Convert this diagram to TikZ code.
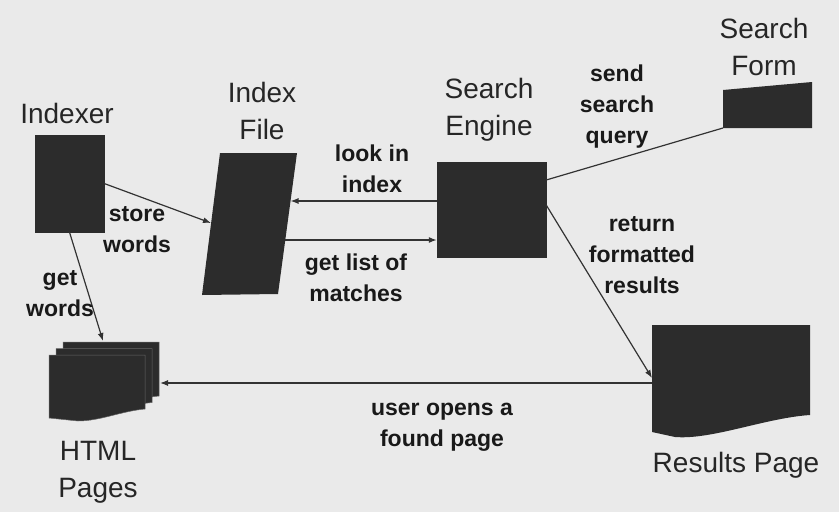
\documentclass[tikz,border=0pt]{standalone}
\usepackage{fontspec}
\setmainfont{Liberation Sans}
\usetikzlibrary{arrows.meta}

\definecolor{paper}{HTML}{EAEAEA}
\definecolor{ink}{HTML}{2C2C2C}

\begin{document}
\begin{tikzpicture}[x=1pt, y=-1pt, >={Latex[length=8pt,width=6pt]},
  blk/.style={fill=ink, draw=ink, inner sep=0pt},
  title/.style={align=center, text=black!85, font=\fontsize{28}{37}\selectfont},
  note/.style={align=center, text=black!90, font=\fontsize{23}{31}\selectfont\bfseries},
  flow/.style={draw=black!80, line width=1.2pt}]

\useasboundingbox (0,0) rectangle (839,512);
\fill[paper] (0,0) rectangle (839,512);

% boxes
\node[blk, minimum width=69pt, minimum height=97pt] (indexer) at (69.5,183.5) {};
\node[blk, minimum width=109pt, minimum height=95pt] (engine) at (491.5,209.5) {};

\fill[ink] (220,153) -- (297,153) -- (278,294) -- (202,295) -- cycle;
\fill[ink] (723,90) -- (812,82) -- (812,128) -- (723,128) -- cycle;
\fill[ink] (652,325) -- (810,325) -- (810,415)
  .. controls (765,418) and (712,440) .. (675,437) -- (652,432) -- cycle;
\foreach \d in {2,1,0}
  \filldraw[fill=ink, draw=black!60, line width=0.5pt, shift={(7*\d,-6.5*\d)}]
    (49,355) -- (145,355) -- (145,409)
    .. controls (122,411) and (100,421) .. (78,421) -- (49,418) -- cycle;

% connector ends on the drawn shapes
\coordinate (file-w) at (211,223);
\coordinate (file-e1) at (290.5,201);
\coordinate (file-e2) at (285.3,240);
\coordinate (form-sw) at (723,128);
\coordinate (results-w1) at (652,378);
\coordinate (results-w2) at (652,383);
\coordinate (pages-n) at (103,341);
\coordinate (pages-e) at (160,383);

% titles
\node[title] (t-indexer) at (67,113) {Indexer};
\node[title] (t-file) at (262,111) {Index\\File};
\node[title] (t-engine) at (489,110) {Search\\Engine};
\node[title] (t-form) at (764,47) {Search\\Form};
\node[title] (t-results) at (736,465) {Results Page};
\node[title] (t-pages) at (98,472) {HTML\\Pages};

% connectors
\draw[flow, ->] (indexer.east) -- (file-w);
\draw[flow, ->] (indexer.south) -- (pages-n);
\draw[flow, ->] ([yshift=8.5pt]engine.west) -- (file-e1);
\draw[flow, ->] (file-e2) -- ([yshift=-30.5pt]engine.west);
\draw[flow] (form-sw) -- ([yshift=29.5pt]engine.east);
\draw[flow, ->] ([yshift=4.5pt]engine.east) -- (results-w1);
\draw[flow, ->] (results-w2) -- (pages-e);

% connector labels
\node[note] (n-store) at (137,230) {store\\words};
\node[note] (n-get) at (60,294) {get\\words};
\node[note] (n-look) at (372,169) {look in\\index};
\node[note] (n-list) at (356,278) {get list of\\matches};
\node[note] (n-send) at (617,107) {send\\search\\query};
\node[note] (n-return) at (642,255) {return\\formatted\\results};
\node[note] (n-user) at (442,427) {user opens a\\found page};

\end{tikzpicture}
\end{document}
